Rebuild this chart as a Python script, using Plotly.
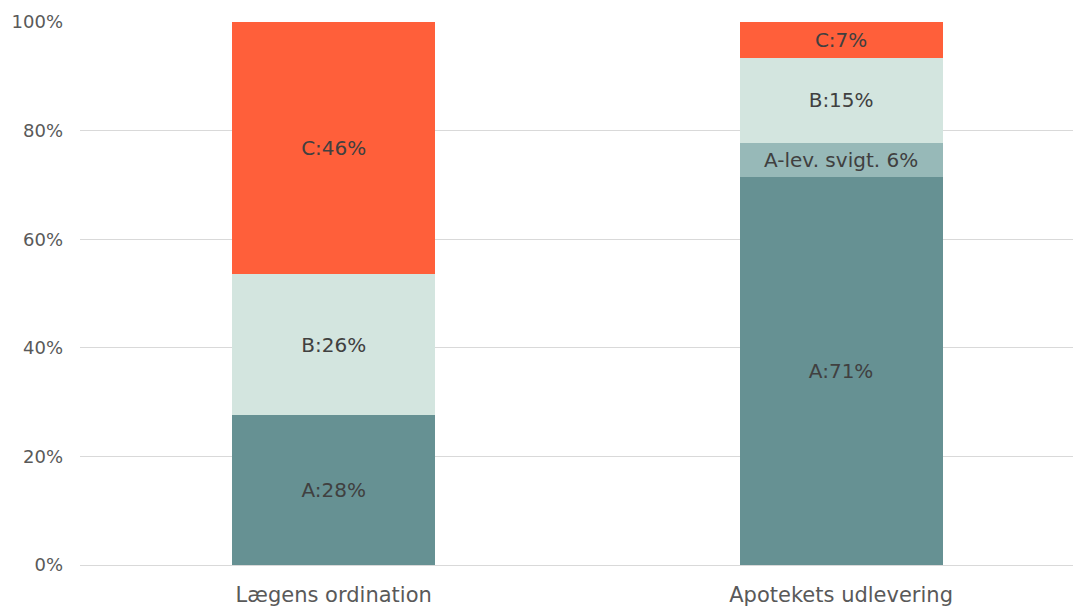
import plotly.graph_objects as go

categories = ["Lægens ordination", "Apotekets udlevering"]
series_names = ["A", "A-lev. svigt.", "B", "C"]
a_vals = [27.6, 71.5]
alev_vals = [0, 6.2]
b_vals = [26.0, 15.7]
c_vals = [46.4, 6.6]
a_text = ["A:28%", "A:71%"]
alev_text = ["", "A-lev. svigt. 6%"]
b_text = ["B:26%", "B:15%"]
c_text = ["C:46%", "C:7%"]
y_tickvals = [0, 20, 40, 60, 80, 100]
y_ticktext = ["0%", "20%", "40%", "60%", "80%", "100%"]
colors = ["#669193", "#97B9B8", "#D3E5DF", "#FF5F3A"]

fig = go.Figure()
for name, vals, txt, col in zip(series_names, [a_vals, alev_vals, b_vals, c_vals],
                                [a_text, alev_text, b_text, c_text], colors):
    fig.add_trace(go.Bar(
        x=categories, y=vals, name=name, text=txt, marker=dict(color=col, line=dict(width=0)),
        width=0.4, textposition="inside", insidetextanchor="middle", constraintext="none",
        textfont=dict(family="DejaVu Sans", size=20, color="#404040"),
        texttemplate="%{text}", hoverinfo="skip",
    ))

fig.update_layout(
    barmode="stack", showlegend=False, width=1073, height=606,
    margin=dict(l=80, r=0, t=22, b=41),
    paper_bgcolor="white", plot_bgcolor="white",
    font=dict(family="DejaVu Sans", color="#595959"),
    uniformtext=dict(mode=False),
)
fig.update_yaxes(range=[0, 100], tickvals=y_tickvals, ticktext=y_ticktext,
                 showgrid=True, gridcolor="#d9d9d9", gridwidth=1, zeroline=False,
                 tickfont=dict(size=18, color="#595959"), ticklabelstandoff=16, showline=False)
fig.update_xaxes(range=[-0.5, 1.457], showgrid=False, showline=True, linecolor="#d9d9d9",
                 tickfont=dict(size=21, color="#595959"), ticks="", ticklabelstandoff=11)

fig.write_html("out.html")
